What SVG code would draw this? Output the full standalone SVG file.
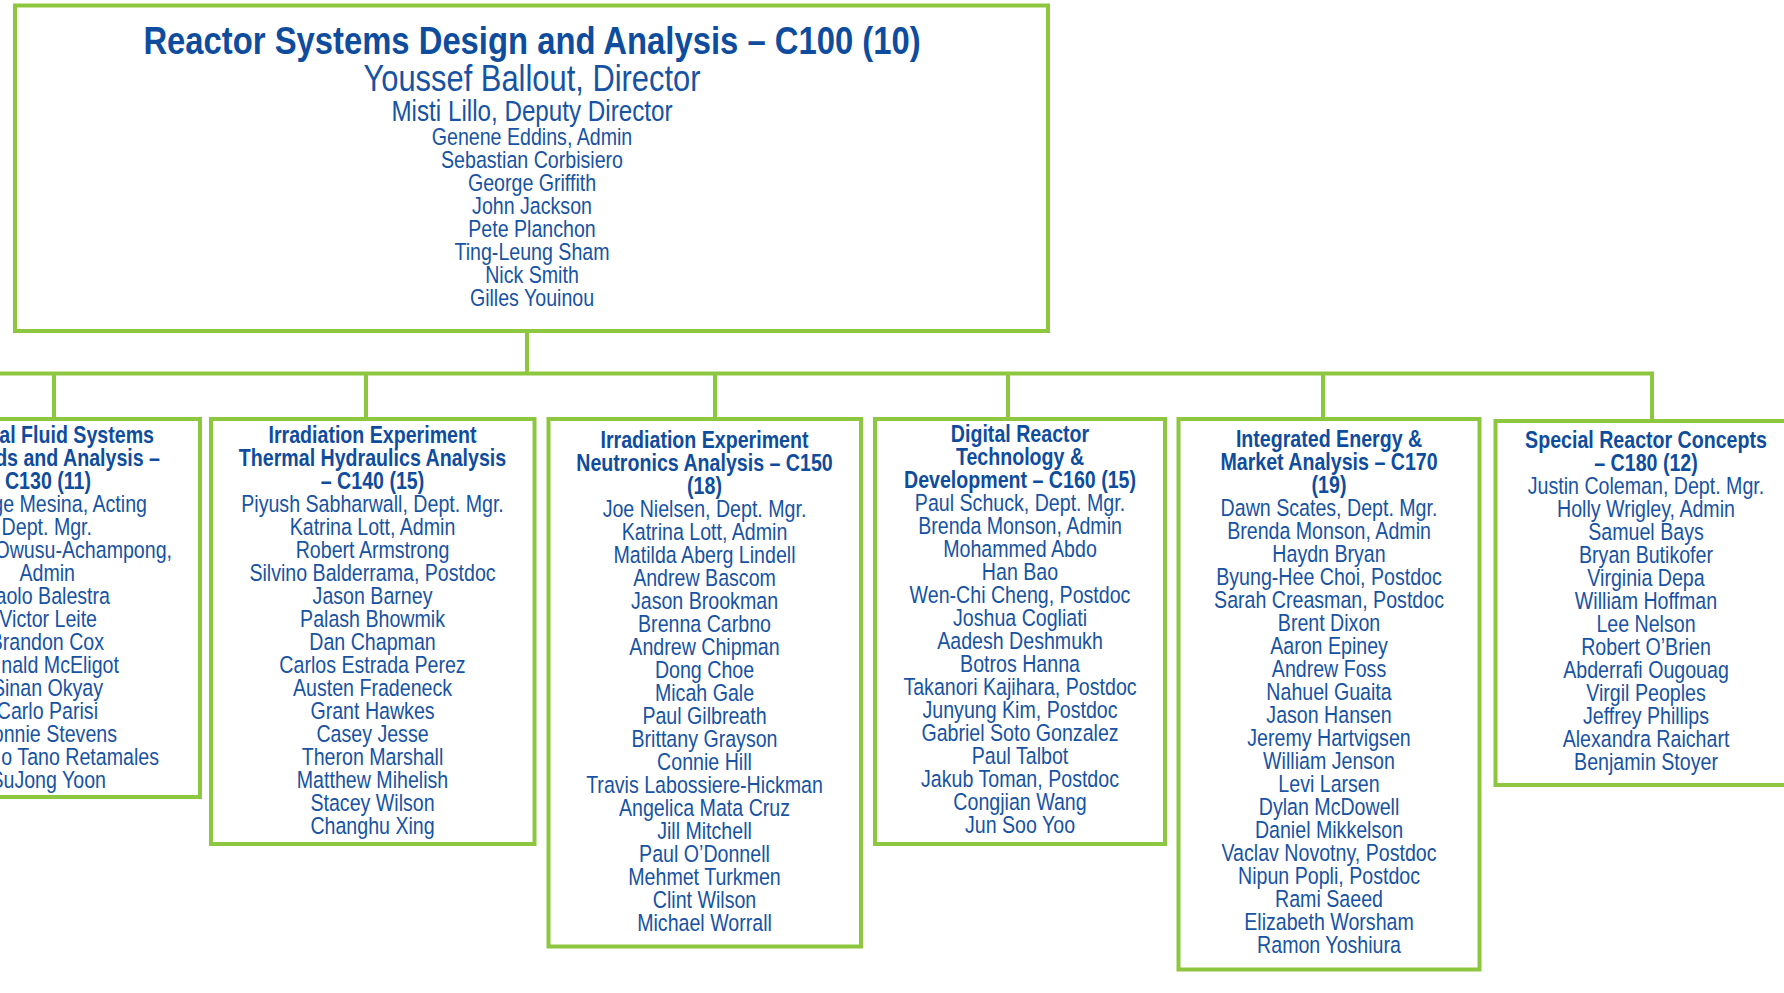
<svg xmlns="http://www.w3.org/2000/svg" width="1784" height="993" viewBox="0 0 1784 993">
<style>
.box{fill:#fff;stroke:#8DC63F;stroke-width:4}
.con{fill:none;stroke:#8DC63F;stroke-width:4}
text{font-family:"Liberation Sans",Arial,sans-serif;text-anchor:middle}
.h{font-weight:bold;font-size:23.5px;fill:#0E4C9E}
.n{font-size:23.5px;fill:#1753A3}
.e{text-anchor:end}
.t1{font-weight:bold;font-size:39.3px;fill:#0E4C9E}
.t2{font-size:37px;fill:#1753A3}
.t3{font-size:29px;fill:#1753A3}
</style>
<rect width="1784" height="993" fill="#fff"/>
<g id="connectors">
<path class="con" d="M527 331V373.5M-10 373.5H1652V421M54 373.5V419M366 373.5V419M715 373.5V419M1008 373.5V419M1323 373.5V419"/>
</g>
<g id="c100">
<rect class="box" x="15" y="5.5" width="1033" height="325.5"/>
<g transform="translate(532 0) scale(0.835 1)">
<text class="t1" x="0" y="54">Reactor Systems Design and Analysis – C100 (10)</text>
<text class="t2" x="0" y="91">Youssef Ballout, Director</text>
<text class="t3" x="0" y="121.5">Misti Lillo, Deputy Director</text>
<text class="n" x="0" y="145.5">Genene Eddins, Admin</text>
<text class="n" x="0" y="168.5">Sebastian Corbisiero</text>
<text class="n" x="0" y="191.5">George Griffith</text>
<text class="n" x="0" y="214.5">John Jackson</text>
<text class="n" x="0" y="237.5">Pete Planchon</text>
<text class="n" x="0" y="260.5">Ting-Leung Sham</text>
<text class="n" x="0" y="283.5">Nick Smith</text>
<text class="n" x="0" y="306.5">Gilles Youinou</text>
</g>
</g>
<g id="c130">
<rect class="box" x="-104" y="419" width="304" height="378"/>
<g transform="scale(0.835 1)">
<text class="h e" x="184.4" y="443">al Fluid Systems</text>
<text class="h e" x="191.6" y="466">ds and Analysis –</text>
<text class="h e" x="109" y="489">C130 (11)</text>
<text class="n e" x="176" y="512">ge Mesina, Acting</text>
<text class="n e" x="110.2" y="535">Dept. Mgr.</text>
<text class="n e" x="206" y="558">Owusu-Achampong,</text>
<text class="n e" x="89.8" y="581">Admin</text>
<text class="n e" x="131.7" y="604">aolo Balestra</text>
<text class="n e" x="116.2" y="627">Victor Leite</text>
<text class="n e" x="124.6" y="650">Brandon Cox</text>
<text class="n e" x="142.5" y="673">nald McEligot</text>
<text class="n e" x="123.4" y="696">Sinan Okyay</text>
<text class="n e" x="117.4" y="719">Carlo Parisi</text>
<text class="n e" x="140.1" y="742">onnie Stevens</text>
<text class="n e" x="190.4" y="765">o Tano Retamales</text>
<text class="n e" x="126.9" y="788">SuJong Yoon</text>
</g>
</g>
<g id="c140">
<rect class="box" x="211" y="419" width="323.5" height="425"/>
<g transform="translate(372.5 0) scale(0.835 1)">
<text class="h" x="0" y="443">Irradiation Experiment</text>
<text class="h" x="0" y="466">Thermal Hydraulics Analysis</text>
<text class="h" x="0" y="489">– C140 (15)</text>
<text class="n" x="0" y="512">Piyush Sabharwall, Dept. Mgr.</text>
<text class="n" x="0" y="535">Katrina Lott, Admin</text>
<text class="n" x="0" y="558">Robert Armstrong</text>
<text class="n" x="0" y="581">Silvino Balderrama, Postdoc</text>
<text class="n" x="0" y="604">Jason Barney</text>
<text class="n" x="0" y="627">Palash Bhowmik</text>
<text class="n" x="0" y="650">Dan Chapman</text>
<text class="n" x="0" y="673">Carlos Estrada Perez</text>
<text class="n" x="0" y="696">Austen Fradeneck</text>
<text class="n" x="0" y="719">Grant Hawkes</text>
<text class="n" x="0" y="742">Casey Jesse</text>
<text class="n" x="0" y="765">Theron Marshall</text>
<text class="n" x="0" y="788">Matthew Mihelish</text>
<text class="n" x="0" y="811">Stacey Wilson</text>
<text class="n" x="0" y="834">Changhu Xing</text>
</g>
</g>
<g id="c150">
<rect class="box" x="548.5" y="419" width="312.5" height="527.5"/>
<g transform="translate(704.5 0) scale(0.835 1)">
<text class="h" x="0" y="448">Irradiation Experiment</text>
<text class="h" x="0" y="471">Neutronics Analysis – C150</text>
<text class="h" x="0" y="494">(18)</text>
<text class="n" x="0" y="517">Joe Nielsen, Dept. Mgr.</text>
<text class="n" x="0" y="540">Katrina Lott, Admin</text>
<text class="n" x="0" y="563">Matilda Aberg Lindell</text>
<text class="n" x="0" y="586">Andrew Bascom</text>
<text class="n" x="0" y="609">Jason Brookman</text>
<text class="n" x="0" y="632">Brenna Carbno</text>
<text class="n" x="0" y="655">Andrew Chipman</text>
<text class="n" x="0" y="678">Dong Choe</text>
<text class="n" x="0" y="701">Micah Gale</text>
<text class="n" x="0" y="724">Paul Gilbreath</text>
<text class="n" x="0" y="747">Brittany Grayson</text>
<text class="n" x="0" y="770">Connie Hill</text>
<text class="n" x="0" y="793">Travis Labossiere-Hickman</text>
<text class="n" x="0" y="816">Angelica Mata Cruz</text>
<text class="n" x="0" y="839">Jill Mitchell</text>
<text class="n" x="0" y="862">Paul O’Donnell</text>
<text class="n" x="0" y="885">Mehmet Turkmen</text>
<text class="n" x="0" y="908">Clint Wilson</text>
<text class="n" x="0" y="931">Michael Worrall</text>
</g>
</g>
<g id="c160">
<rect class="box" x="875" y="419" width="290" height="425"/>
<g transform="translate(1020 0) scale(0.835 1)">
<text class="h" x="0" y="442.5">Digital Reactor</text>
<text class="h" x="0" y="465.5">Technology &amp;</text>
<text class="h" x="0" y="488.5">Development – C160 (15)</text>
<text class="n" x="0" y="511.5">Paul Schuck, Dept. Mgr.</text>
<text class="n" x="0" y="534.5">Brenda Monson, Admin</text>
<text class="n" x="0" y="557.5">Mohammed Abdo</text>
<text class="n" x="0" y="580.5">Han Bao</text>
<text class="n" x="0" y="603.5">Wen-Chi Cheng, Postdoc</text>
<text class="n" x="0" y="626.5">Joshua Cogliati</text>
<text class="n" x="0" y="649.5">Aadesh Deshmukh</text>
<text class="n" x="0" y="672.5">Botros Hanna</text>
<text class="n" x="0" y="695.5">Takanori Kajihara, Postdoc</text>
<text class="n" x="0" y="718.5">Junyung Kim, Postdoc</text>
<text class="n" x="0" y="741.5">Gabriel Soto Gonzalez</text>
<text class="n" x="0" y="764.5">Paul Talbot</text>
<text class="n" x="0" y="787.5">Jakub Toman, Postdoc</text>
<text class="n" x="0" y="810.5">Congjian Wang</text>
<text class="n" x="0" y="833.5">Jun Soo Yoo</text>
</g>
</g>
<g id="c170">
<rect class="box" x="1178.5" y="419" width="301" height="550.5"/>
<g transform="translate(1329 0) scale(0.835 1)">
<text class="h" x="0" y="447">Integrated Energy &amp;</text>
<text class="h" x="0" y="470">Market Analysis – C170</text>
<text class="h" x="0" y="493">(19)</text>
<text class="n" x="0" y="516">Dawn Scates, Dept. Mgr.</text>
<text class="n" x="0" y="539">Brenda Monson, Admin</text>
<text class="n" x="0" y="562">Haydn Bryan</text>
<text class="n" x="0" y="585">Byung-Hee Choi, Postdoc</text>
<text class="n" x="0" y="608">Sarah Creasman, Postdoc</text>
<text class="n" x="0" y="631">Brent Dixon</text>
<text class="n" x="0" y="654">Aaron Epiney</text>
<text class="n" x="0" y="677">Andrew Foss</text>
<text class="n" x="0" y="700">Nahuel Guaita</text>
<text class="n" x="0" y="723">Jason Hansen</text>
<text class="n" x="0" y="746">Jeremy Hartvigsen</text>
<text class="n" x="0" y="769">William Jenson</text>
<text class="n" x="0" y="792">Levi Larsen</text>
<text class="n" x="0" y="815">Dylan McDowell</text>
<text class="n" x="0" y="838">Daniel Mikkelson</text>
<text class="n" x="0" y="861">Vaclav Novotny, Postdoc</text>
<text class="n" x="0" y="884">Nipun Popli, Postdoc</text>
<text class="n" x="0" y="907">Rami Saeed</text>
<text class="n" x="0" y="930">Elizabeth Worsham</text>
<text class="n" x="0" y="953">Ramon Yoshiura</text>
</g>
</g>
<g id="c180">
<rect class="box" x="1495.5" y="421" width="301" height="364"/>
<g transform="translate(1646 0) scale(0.835 1)">
<text class="h" x="0" y="448.5">Special Reactor Concepts</text>
<text class="h" x="0" y="471.5">– C180 (12)</text>
<text class="n" x="0" y="494.5">Justin Coleman, Dept. Mgr.</text>
<text class="n" x="0" y="517.5">Holly Wrigley, Admin</text>
<text class="n" x="0" y="540.5">Samuel Bays</text>
<text class="n" x="0" y="563.5">Bryan Butikofer</text>
<text class="n" x="0" y="586.5">Virginia Depa</text>
<text class="n" x="0" y="609.5">William Hoffman</text>
<text class="n" x="0" y="632.5">Lee Nelson</text>
<text class="n" x="0" y="655.5">Robert O’Brien</text>
<text class="n" x="0" y="678.5">Abderrafi Ougouag</text>
<text class="n" x="0" y="701.5">Virgil Peoples</text>
<text class="n" x="0" y="724.5">Jeffrey Phillips</text>
<text class="n" x="0" y="747.5">Alexandra Raichart</text>
<text class="n" x="0" y="770.5">Benjamin Stoyer</text>
</g>
</g>
</svg>
